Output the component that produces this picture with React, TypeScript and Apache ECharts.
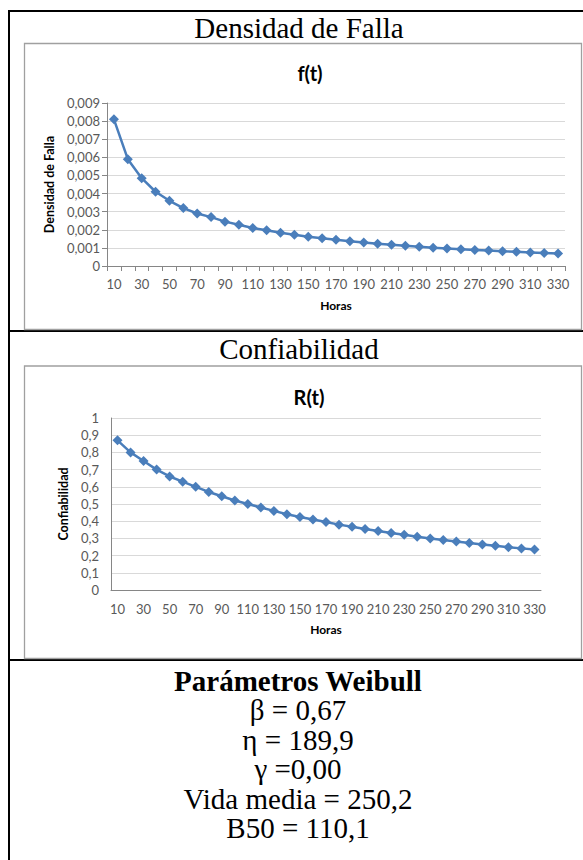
import React, { useEffect, useRef } from "react";
import * as echarts from "echarts";

const categories = ["10","20","30","40","50","60","70","80","90","100","110","120","130","140","150","160","170","180","190","200","210","220","230","240","250","260","270","280","290","300","310","320","330"];

const densityValues = [0.0081, 0.0059, 0.00485, 0.0041, 0.0036, 0.0032, 0.0029, 0.0027, 0.00245, 0.00228, 0.0021, 0.00197, 0.00184, 0.00173, 0.00162, 0.00153, 0.00145, 0.00137, 0.0013, 0.00123, 0.00117, 0.00112, 0.00106, 0.00101, 0.00097, 0.00093, 0.00089, 0.00085, 0.00081, 0.00078, 0.00075, 0.00072, 0.00069];

const reliabilityValues = [0.87, 0.8, 0.75, 0.7, 0.66, 0.63, 0.6, 0.57, 0.545, 0.52, 0.5, 0.48, 0.46, 0.44, 0.425, 0.41, 0.395, 0.38, 0.368, 0.355, 0.343, 0.332, 0.321, 0.31, 0.3, 0.291, 0.282, 0.273, 0.265, 0.257, 0.249, 0.242, 0.235];

const headings = ["Densidad de Falla", "Confiabilidad"];
const paramTitle = "Parámetros Weibull";
const paramLines = ["β = 0,67", "η = 189,9", "γ =0,00", "Vida media = 250,2", "B50 = 110,1"];

const SANS = "Lato, 'Open Sans', sans-serif";
const SERIF = "'Liberation Serif', 'Times New Roman', serif";
const BLUE = "#4A7EBB";
const AXIS = "#868686";
const GRID = "#d9d9d9";
const LABEL = "#595959";

function fmtDensity(v: number) {
  if (Math.abs(v) < 1e-12) return "0";
  return v.toFixed(3).replace(".", ",");
}
function fmtRel(v: number) {
  if (Math.abs(v) < 1e-12) return "0";
  if (Math.abs(v - 1) < 1e-9) return "1";
  return v.toFixed(1).replace(".", ",");
}

export default function App() {
  const ref = useRef<HTMLDivElement>(null);
  useEffect(() => {
    if (!ref.current) return;
    const chart = echarts.init(ref.current, undefined, { renderer: "svg" });
    const serifText = (text: string, x: number, y: number, size: number, bold = false) => ({
      type: "text",
      x,
      y,
      style: {
        text,
        fill: "#000",
        font: `${bold ? "bold " : ""}${size}px ${SERIF}`,
        align: "center",
        verticalAlign: "middle",
        textAlign: "center",
        textVerticalAlign: "middle",
      },
    });
    const hline = (y: number) => ({
      type: "line",
      shape: { x1: 8, y1: y, x2: 583, y2: y },
      style: { stroke: "#000", lineWidth: 2 },
    });
    const option: any = {
      animation: false,
      backgroundColor: "#fff",
      title: [
        { text: "f(t)", left: 305, top: 58, textAlign: "center", textStyle: { fontFamily: SANS, fontWeight: "bold", fontSize: 20, color: "#000" } },
        { text: "R(t)", left: 304, top: 382, textAlign: "center", textStyle: { fontFamily: SANS, fontWeight: "bold", fontSize: 20, color: "#000" } },
      ],
      grid: [
        { left: 107, top: 103, width: 458, height: 163, containLabel: false },
        { left: 111, top: 418, width: 430, height: 172, containLabel: false },
      ],
      xAxis: [
        {
          type: "category", gridIndex: 0, data: categories, boundaryGap: true,
          name: "Horas", nameLocation: "middle", nameGap: 33,
          nameTextStyle: { fontFamily: SANS, fontWeight: "bold", fontSize: 12, color: "#000" },
          axisLine: { lineStyle: { color: AXIS, width: 1 } },
          axisTick: { show: true, interval: 0, length: 5, alignWithLabel: false, lineStyle: { color: AXIS } },
          axisLabel: { interval: 1, margin: 11, fontFamily: SANS, fontSize: 13, color: LABEL },
          splitLine: { show: false },
        },
        {
          type: "category", gridIndex: 1, data: categories, boundaryGap: true,
          name: "Horas", nameLocation: "middle", nameGap: 33,
          nameTextStyle: { fontFamily: SANS, fontWeight: "bold", fontSize: 12, color: "#000" },
          axisLine: { lineStyle: { color: AXIS, width: 1 } },
          axisTick: { show: false },
          axisLabel: { interval: 1, margin: 12, fontFamily: SANS, fontSize: 13, color: LABEL },
          splitLine: { show: false },
        },
      ],
      yAxis: [
        {
          type: "value", gridIndex: 0, min: 0, max: 0.009, interval: 0.001,
          name: "Densidad de Falla", nameLocation: "middle", nameGap: 45,
          nameTextStyle: { fontFamily: SANS, fontWeight: "bold", fontSize: 12.5, color: "#000" },
          axisLine: { show: true, lineStyle: { color: AXIS, width: 1 } },
          axisTick: { show: true, length: 5, lineStyle: { color: AXIS } },
          axisLabel: { formatter: fmtDensity, margin: 7, fontFamily: SANS, fontSize: 13, color: LABEL },
          splitLine: { show: true, lineStyle: { color: GRID, width: 1 } },
        },
        {
          type: "value", gridIndex: 1, min: 0, max: 1, interval: 0.1,
          name: "Confiabilidad", nameLocation: "middle", nameGap: 35,
          nameTextStyle: { fontFamily: SANS, fontWeight: "bold", fontSize: 12.5, color: "#000" },
          axisLine: { show: true, lineStyle: { color: AXIS, width: 1 } },
          axisTick: { show: false },
          axisLabel: { formatter: fmtRel, margin: 12, fontFamily: SANS, fontSize: 13, color: LABEL },
          splitLine: { show: true, lineStyle: { color: GRID, width: 1 } },
        },
      ],
      series: [
        {
          type: "line", name: "f(t)", xAxisIndex: 0, yAxisIndex: 0, data: densityValues,
          symbol: "diamond", symbolSize: 10, showAllSymbol: true,
          lineStyle: { color: BLUE, width: 2.5 }, itemStyle: { color: BLUE },
        },
        {
          type: "line", name: "R(t)", xAxisIndex: 1, yAxisIndex: 1, data: reliabilityValues,
          symbol: "diamond", symbolSize: 10, showAllSymbol: true,
          lineStyle: { color: BLUE, width: 2.5 }, itemStyle: { color: BLUE },
        },
      ],
      graphic: [
        { type: "line", shape: { x1: 9, y1: 10, x2: 9, y2: 860 }, style: { stroke: "#000", lineWidth: 2 } },
        hline(11),
        hline(331),
        hline(660),
        { type: "rect", shape: { x: 24.5, y: 43.5, width: 557, height: 286 }, style: { fill: "none", stroke: "#a0a0a0", lineWidth: 1.3 } },
        { type: "rect", shape: { x: 24.5, y: 366, width: 557, height: 292.5 }, style: { fill: "none", stroke: "#a0a0a0", lineWidth: 1.3 } },
        serifText(headings[0], 299, 28, 29),
        serifText(headings[1], 299, 349, 29),
        serifText(paramTitle, 298, 681, 29, true),
        ...paramLines.map((t, i) => serifText(t, 298, 710 + i * 29.5, 29)),
      ],
    };
    chart.setOption(option);
    return () => chart.dispose();
  }, []);
  return <div ref={ref} style={{ position: "absolute", left: 0, top: 0, width: 583, height: 860 }} />;
}
